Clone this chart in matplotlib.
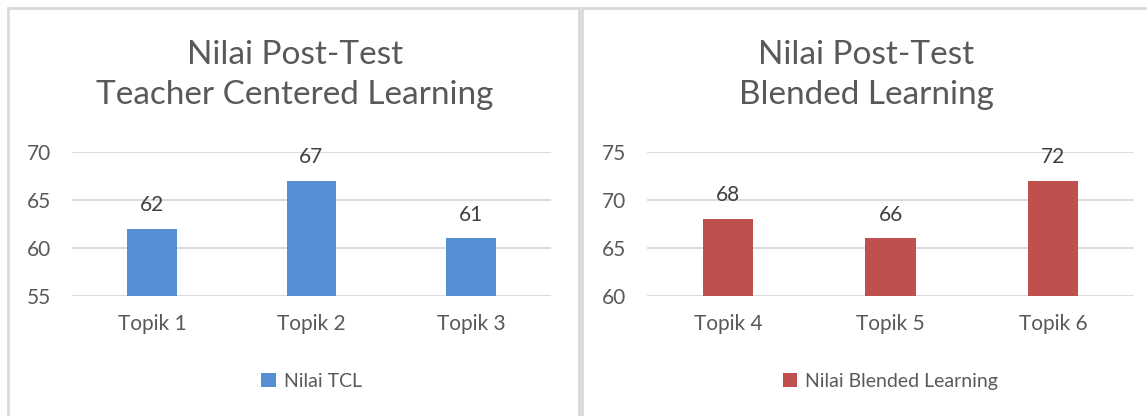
import matplotlib.pyplot as plt
from matplotlib.patches import Rectangle

plt.rcParams['font.family'] = ['Lato', 'DejaVu Sans']

# data
tcl_topics = ['Topik 1', 'Topik 2', 'Topik 3']
tcl_scores = [62, 67, 61]
bl_topics = ['Topik 4', 'Topik 5', 'Topik 6']
bl_scores = [68, 66, 72]

text_col = '#595959'
grid_col = '#D9D9D9'
blue = '#558ED5'
red = '#C0504D'

fig = plt.figure(figsize=(11.47, 4.16), dpi=100)
W, H = 1147, 416

# panel borders
for x0, x1 in [(8, 579), (582, 1160)]:
    fig.patches.append(Rectangle((x0 / W, -0.1), (x1 - x0) / W, (H - 8) / H + 0.1,
                                 transform=fig.transFigure, fill=False,
                                 edgecolor='#D9D9D9', linewidth=2))


def draw_panel(rect, topics, scores, color, ylim, title, legend_label, title_x):
    ax = fig.add_axes(rect)
    x = range(len(topics))
    bars = ax.bar(x, scores, width=0.31, color=color, label=legend_label, zorder=3)
    ax.set_xlim(-0.5, len(topics) - 0.5)
    ax.set_ylim(*ylim)
    ax.set_yticks(range(ylim[0], ylim[1] + 1, 5))
    ax.set_xticks(list(x))
    ax.set_xticklabels(topics)
    ax.grid(axis='y', color=grid_col, linewidth=1.3, zorder=0)
    for s in ax.spines.values():
        s.set_visible(False)
    ax.tick_params(length=0, labelsize=15, colors=text_col)
    ax.tick_params(axis='x', pad=13)
    ax.tick_params(axis='y', pad=15)
    for b, v in zip(bars, scores):
        ax.annotate(str(v), (b.get_x() + b.get_width() / 2, v),
                    xytext=(0, 10), textcoords='offset points',
                    ha='center', va='bottom', fontsize=15, color='#404040')
    fig.text(title_x, 1 - 75 / H, title, ha='center', va='center',
             fontsize=24, color=text_col, linespacing=1.42)
    ax.legend(loc='upper center', bbox_to_anchor=(0.5, -0.41), frameon=False,
              fontsize=14, labelcolor=text_col, handlelength=0.75,
              handleheight=0.75, handletextpad=0.4)
    return ax


draw_panel([72 / W, 1 - 296 / H, (551 - 72) / W, (296 - 152) / H],
           tcl_topics, tcl_scores, blue, (55, 70),
           'Nilai Post-Test\nTeacher Centered Learning', 'Nilai TCL', 295 / W)
draw_panel([647 / W, 1 - 296 / H, (1134 - 647) / W, (296 - 152) / H],
           bl_topics, bl_scores, red, (60, 75),
           'Nilai Post-Test\nBlended Learning', 'Nilai Blended Learning', 866 / W)

fig.savefig('out.png', dpi=100)
